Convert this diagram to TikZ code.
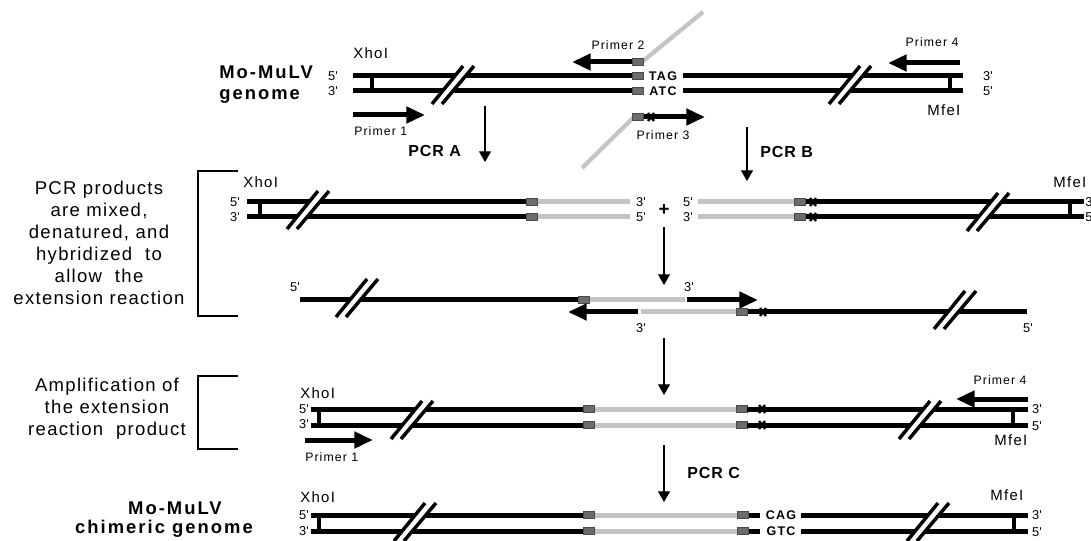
\documentclass[tikz,border=0pt]{standalone}
\usepackage{fontspec}
\setmainfont{Liberation Sans}[Ligatures=TeXOff]
\usetikzlibrary{arrows.meta}

\definecolor{newdna}{HTML}{C4C4C4}
\definecolor{junction}{HTML}{6C6C6C}
\definecolor{junctionedge}{HTML}{4A4A4A}

% text faces (sizes given for a 0.75pt drawing unit)
\newcommand{\fdesc}{\fontsize{13.9pt}{16.4pt}\selectfont\addfontfeature{LetterSpace=7}}
\newcommand{\ftitle}{\bfseries\fontsize{13.8pt}{18pt}\selectfont\addfontfeature{LetterSpace=11}}
\newcommand{\fpcr}{\bfseries\fontsize{12pt}{14pt}\selectfont\addfontfeature{LetterSpace=6}}
\newcommand{\fenz}{\fontsize{11.2pt}{12pt}\selectfont\addfontfeature{LetterSpace=9}}
\newcommand{\fprimer}{\fontsize{9.2pt}{10pt}\selectfont\addfontfeature{LetterSpace=9}}
\newcommand{\fend}{\fontsize{9.6pt}{8pt}\selectfont}
\newcommand{\fseq}{\bfseries\fontsize{9.4pt}{10pt}\selectfont\addfontfeature{LetterSpace=10}}

\tikzset{
  strand/.style={line width=3.75pt},
  newstrand/.style={line width=3.75pt, newdna},
  guide/.style={line width=3.2pt, newdna},
  primer/.style={line width=3.75pt, -{Triangle[length=14pt,width=12pt]}},
  flow/.style={line width=0.8pt, -{Triangle[length=8pt,width=9pt]}},
  capbar/.style={line width=3pt},
  bracketline/.style={line width=1.6pt},
  desctext/.style={font=\fdesc, align=center, inner sep=0pt},
  titletext/.style={font=\ftitle, inner sep=0pt},
  pcrtext/.style={font=\fpcr, inner sep=0pt},
  enztext/.style={font=\fenz, inner sep=0pt},
  primertext/.style={font=\fprimer, inner sep=0pt},
  endtext/.style={font=\fend, inner sep=0pt},
  seqtext/.style={font=\fseq, inner sep=0pt},
}

% "//" break in a strand, centred at (#1,#2)
\newcommand{\strandbreak}[2]{%
  \begin{scope}[shift={(#1,#2)}]
    \draw[white, line width=6pt] (-16,19) -- (15.5,-19);
    \draw[line width=2.6pt] (-21,19) -- (10,-19);
    \draw[line width=2.6pt] (-11,19) -- (21,-19);
  \end{scope}}
% overlap junction block
\newcommand{\junctionbox}[2]{%
  \filldraw[fill=junction, draw=junctionedge, line width=0.5pt]
    (#1-5.5,#2-3.2) rectangle (#1+5.5,#2+3.2);}
% point mutation mark
\newcommand{\mutmark}[2]{%
  \draw[line width=1.8pt] (#1-3,#2-4) -- (#1+3,#2+4) (#1-3,#2+4) -- (#1+3,#2-4);}

\begin{document}
\begin{tikzpicture}[x=0.75pt, y=-0.75pt]
\useasboundingbox (0,0) rectangle (1091,541);

%% ---------- parental genome ----------
\node[titletext, anchor=west] (mo1) at (219,72) {Mo-MuLV};
\node[titletext, anchor=west] (gen1) at (219,96) {genome};
\node[enztext, anchor=west] (xho1) at (353,53) {XhoI};
\node[endtext] (r1a) at (333,76) {5'};
\node[endtext] (r1b) at (333,91) {3'};
\draw[strand] (353,76) -- (633,76);
\draw[strand] (683,76) -- (963,76);
\draw[strand] (353,91) -- (633,91);
\draw[strand] (683,91) -- (963,91);
\draw[capbar] (372,76) -- (372,91);
\draw[capbar] (950,76) -- (950,91);
\strandbreak{453}{85}
\strandbreak{850}{85}
\junctionbox{638}{76}
\junctionbox{638}{91}
\node[seqtext] (tag1) at (663,76) {TAG};
\node[seqtext] (atc1) at (663,91) {ATC};
\node[endtext] (r1c) at (988,76) {3'};
\node[endtext] (r1d) at (988,91) {5'};
\node[enztext, anchor=west] (mfe1) at (927,110) {MfeI};

% primers
\draw[guide] (643,61) -- (703,12);
\draw[guide] (633,118) -- (582,168);
\draw[primer] (633,62) -- (572,62);
\junctionbox{638}{62}
\draw[primer] (643,117) -- (705,117);
\junctionbox{638}{117}
\mutmark{651}{117}
\draw[primer] (353,115) -- (425,115);
\draw[primer] (960,63) -- (888,63);
\node[primertext] (pr2) at (618,45) {Primer 2};
\node[primertext] (pr3) at (663,135) {Primer 3};
\node[primertext] (pr4) at (932,42) {Primer 4};
\node[primertext, anchor=west] (pr1) at (354,131) {Primer 1};

% first PCR step
\coordinate (pcrAs) at (485,106);
\coordinate (pcrAe) at (485,162);
\draw[flow] (pcrAs) -- (pcrAe);
\node[pcrtext, anchor=west] (pcrA) at (408,151) {PCR A};
\coordinate (pcrBs) at (747,127);
\coordinate (pcrBe) at (747,181);
\draw[flow] (pcrBs) -- (pcrBe);
\node[pcrtext, anchor=west] (pcrB) at (760,152) {PCR B};

%% ---------- PCR products ----------
\draw[bracketline] (238,171) -- (198,171) -- (198,316) -- (238,316);
\node[desctext] (desc1) at (99,243)
  {PCR products\\are mixed,\\denatured, and\\hybridized\ \ to\\allow\ \ the\\extension reaction};

\node[enztext, anchor=west] (xho2) at (243,182) {XhoI};
\node[endtext] (r2a) at (235,202) {5'};
\node[endtext] (r2b) at (235,217) {3'};
\draw[strand] (247,202) -- (526,202);
\draw[strand] (247,217) -- (526,217);
\draw[capbar] (260,202) -- (260,217);
\strandbreak{308}{210}
\draw[newstrand] (537,202) -- (630,202);
\draw[newstrand] (537,217) -- (630,217);
\junctionbox{531.5}{202}
\junctionbox{531.5}{217}
\node[endtext] (r2c) at (641,202) {3'};
\node[endtext] (r2d) at (641,217) {5'};
\node[font=\bfseries\fontsize{14pt}{14pt}\selectfont, inner sep=0pt] (plus) at (664,210) {+};
\node[endtext] (r2e) at (688,202) {5'};
\node[endtext] (r2f) at (688,217) {3'};
\draw[newstrand] (698,202) -- (794,202);
\draw[newstrand] (698,217) -- (794,217);
\draw[strand] (805,202) -- (1084,202);
\draw[strand] (805,217) -- (1084,217);
\junctionbox{799.5}{202}
\junctionbox{799.5}{217}
\mutmark{813}{202}
\mutmark{813}{217}
\draw[capbar] (1070,202) -- (1070,217);
\strandbreak{988}{212}
\node[enztext, anchor=west] (mfe2) at (1053,182) {MfeI};
\node[endtext, anchor=west] (r2g) at (1085,202) {3'};
\node[endtext, anchor=west] (r2h) at (1085,217) {5'};

\coordinate (mixs) at (664,227);
\coordinate (mixe) at (664,285);
\draw[flow] (mixs) -- (mixe);

%% ---------- hybridised overlap ----------
\node[endtext] (r3a) at (295,287) {5'};
\draw[strand] (300,300) -- (578,300);
\draw[newstrand] (589,300) -- (685,300);
\junctionbox{583.5}{300}
\draw[primer] (687,300) -- (758,300);
\node[endtext] (r3b) at (689,287) {3'};
\strandbreak{357}{298}

\draw[primer] (638,312) -- (568,312);
\draw[newstrand] (641,312) -- (736,312);
\draw[strand] (747,312) -- (1027,312);
\junctionbox{741.5}{312}
\mutmark{763}{312}
\node[endtext] (r3c) at (641,328) {3'};
\node[endtext] (r3d) at (1028,328) {5'};
\strandbreak{955}{310}

\coordinate (exts) at (664,338);
\coordinate (exte) at (664,395);
\draw[flow] (exts) -- (exte);

%% ---------- amplification ----------
\draw[bracketline] (238,376) -- (198,376) -- (198,449) -- (238,449);
\node[desctext] (desc2) at (107,409)
  {Amplification of\\the extension\\reaction\ \ product};

\node[enztext, anchor=west] (xho4) at (300,393) {XhoI};
\node[endtext] (r4a) at (304,409) {5'};
\node[endtext] (r4b) at (304,424) {3'};
\draw[strand] (311,409) -- (583,409);
\draw[strand] (311,425) -- (583,425);
\draw[capbar] (319,409) -- (319,425);
\draw[newstrand] (594,409) -- (737,409);
\draw[newstrand] (594,425) -- (737,425);
\junctionbox{588.5}{409}
\junctionbox{588.5}{425}
\junctionbox{742}{409}
\junctionbox{742}{425}
\draw[strand] (747,409) -- (1028,409);
\draw[strand] (747,425) -- (1028,425);
\mutmark{762}{409}
\mutmark{762}{425}
\draw[capbar] (1013,409) -- (1013,425);
\strandbreak{412}{420}
\strandbreak{920}{420}
\node[endtext] (r4c) at (1037,409) {3'};
\node[endtext] (r4d) at (1037,426) {5'};
\node[enztext, anchor=west] (mfe4) at (994,440) {MfeI};
\draw[primer] (305,440) -- (373,440);
\node[primertext, anchor=west] (pr1b) at (305,457) {Primer 1};
\draw[primer] (1028,399) -- (956,399);
\node[primertext] (pr4b) at (1000,380) {Primer 4};

\coordinate (pcrCs) at (664,445);
\coordinate (pcrCe) at (664,502);
\draw[flow] (pcrCs) -- (pcrCe);
\node[pcrtext, anchor=west] (pcrC) at (687,473) {PCR C};

%% ---------- chimeric genome ----------
\node[titletext] (mo5) at (175,508) {Mo-MuLV};
\node[titletext] (chim5) at (164,529) {chimeric genome};
\node[enztext, anchor=west] (xho5) at (300,497) {XhoI};
\node[endtext] (r5a) at (304,515) {5'};
\node[endtext] (r5b) at (304,531) {3'};
\draw[strand] (311,515) -- (583,515);
\draw[strand] (311,531) -- (583,531);
\draw[capbar] (319,515) -- (319,531);
\draw[newstrand] (594,515) -- (737,515);
\draw[newstrand] (594,531) -- (737,531);
\junctionbox{588.5}{515}
\junctionbox{588.5}{531}
\junctionbox{743}{515}
\junctionbox{743}{531}
\draw[strand] (749,515) -- (760,515);
\draw[strand] (749,531) -- (760,531);
\node[seqtext] (cag5) at (781,515) {CAG};
\node[seqtext] (gtc5) at (781,531) {GTC};
\draw[strand] (801,515) -- (1028,515);
\draw[strand] (801,531) -- (1028,531);
\draw[capbar] (1014,515) -- (1014,531);
\strandbreak{415}{522}
\strandbreak{928}{522}
\node[endtext] (r5c) at (1037,515) {3'};
\node[endtext] (r5d) at (1037,532) {5'};
\node[enztext, anchor=west] (mfe5) at (990,495) {MfeI};
\end{tikzpicture}
\end{document}
